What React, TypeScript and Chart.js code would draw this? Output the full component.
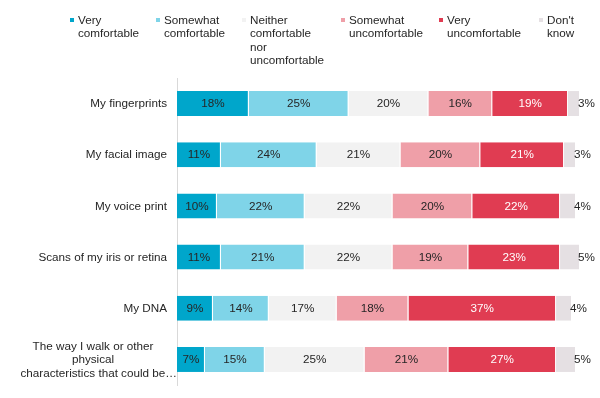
import React, { useEffect, useRef } from "react";
import { Chart, registerables } from "chart.js";

Chart.register(...registerables);

const categories: (string | string[])[] = [
  "My fingerprints",
  "My facial image",
  "My voice print",
  "Scans of my iris or retina",
  "My DNA",
  ["The way I walk or other", "physical", "characteristics that could be…"],
];

const veryComfortable = [18, 11, 10, 11, 9, 7];
const somewhatComfortable = [25, 24, 22, 21, 14, 15];
const neither = [20, 21, 22, 22, 17, 25];
const somewhatUncomfortable = [16, 20, 20, 19, 18, 21];
const veryUncomfortable = [19, 21, 22, 23, 37, 27];
const dontKnow = [3, 3, 4, 5, 4, 5];

const seriesNames: string[][] = [
  ["Very", "comfortable"],
  ["Somewhat", "comfortable"],
  ["Neither", "comfortable", "nor", "uncomfortable"],
  ["Somewhat", "uncomfortable"],
  ["Very", "uncomfortable"],
  ["Don't", "know"],
];
const seriesData = [veryComfortable, somewhatComfortable, neither, somewhatUncomfortable, veryUncomfortable, dontKnow];
const seriesColors = ["#00A6CB", "#7FD4E8", "#F2F2F2", "#EF9FA8", "#E03C52", "#E5E0E3"];
const labelColors = ["#262626", "#262626", "#262626", "#262626", "#FFFFFF", "#262626"];

const FONT = "Arial, 'Liberation Sans', sans-serif";
const FS = 11.7;
const legendX = [70, 156, 242, 341, 439, 539];

const labelsPlugin = {
  id: "customLabels",
  afterDatasetsDraw(chart: any) {
    const ctx = chart.ctx;
    ctx.save();
    ctx.font = `${FS}px ${FONT}`;
    ctx.textBaseline = "middle";
    const n = chart.data.datasets.length;
    chart.data.datasets.forEach((ds: any, i: number) => {
      const meta = chart.getDatasetMeta(i);
      meta.data.forEach((bar: any, j: number) => {
        const { x, y, base } = bar.getProps(["x", "y", "base"], true);
        const text = `${ds.data[j]}%`;
        ctx.fillStyle = labelColors[i];
        if (i === n - 1) {
          ctx.textAlign = "left";
          ctx.fillText(text, x - 2, y + 0.5);
        } else {
          ctx.textAlign = "center";
          ctx.fillText(text, (x + base) / 2, y + 0.5);
        }
      });
    });
    // category labels
    const yScale = chart.scales.y;
    const right = chart.chartArea.left - 10;
    ctx.fillStyle = "#262626";
    categories.forEach((c, i) => {
      const cy = yScale.getPixelForValue(i);
      if (Array.isArray(c)) {
        const lh = 13.4;
        const start = cy - ((c.length - 1) * lh) / 2 + 0.5;
        c.forEach((line, k) => {
          if (k === c.length - 1) {
            ctx.textAlign = "right";
            ctx.fillText(line, chart.chartArea.left, start + k * lh);
          } else {
            ctx.textAlign = "center";
            ctx.fillText(line, 93, start + k * lh);
          }
        });
      } else {
        ctx.textAlign = "right";
        ctx.fillText(c, right, cy + 0.5);
      }
    });
    ctx.restore();
  },
};

export default function App() {
  const ref = useRef<HTMLCanvasElement>(null);
  useEffect(() => {
    if (!ref.current) return;
    const chart = new Chart(ref.current, {
      type: "bar",
      data: {
        labels: categories.map((c) => (Array.isArray(c) ? c.join(" ") : c)),
        datasets: seriesData.map((d, i) => ({
          label: seriesNames[i].join(" "),
          data: d,
          backgroundColor: seriesColors[i],
          borderColor: "#FFFFFF",
          borderWidth: { top: 0, bottom: 0, left: 0, right: 1 },
          borderSkipped: false,
          barPercentage: 0.49,
          categoryPercentage: 1,
          clip: false,
        })),
      },
      options: {
        indexAxis: "y",
        responsive: false,
        animation: false,
        devicePixelRatio: 1,
        layout: { padding: { left: 0, right: 24, top: 78, bottom: 13 } },
        plugins: { legend: { display: false }, tooltip: { enabled: false } },
        scales: {
          x: { stacked: true, display: false, min: 0, max: 100 },
          y: {
            stacked: true,
            grid: { display: false, drawTicks: false },
            border: { display: true, color: "#D9D9D9", width: 1 },
            ticks: { display: false },
            afterFit: (s: any) => {
              s.width = 177;
            },
          },
        },
      } as any,
      plugins: [labelsPlugin],
    });
    return () => chart.destroy();
  }, []);

  return (
    <div style={{ position: "absolute", left: 0, top: 0, width: 600, height: 398, background: "#fff" }}>
      <canvas ref={ref} width={600} height={398} style={{ position: "absolute", left: 0, top: 0 }} />
      {seriesNames.map((lines, i) => (
        <div
          key={i}
          style={{
            position: "absolute",
            left: legendX[i],
            top: 13,
            fontFamily: FONT,
            fontSize: FS,
            lineHeight: "13.4px",
            color: "#262626",
          }}
        >
          <span
            style={{
              position: "absolute",
              left: 0,
              top: 4.5,
              width: 4,
              height: 4,
              background: seriesColors[i],
            }}
          />
          <div style={{ marginLeft: 8, whiteSpace: "nowrap" }}>
            {lines.map((l, k) => (
              <div key={k}>{l}</div>
            ))}
          </div>
        </div>
      ))}
    </div>
  );
}
